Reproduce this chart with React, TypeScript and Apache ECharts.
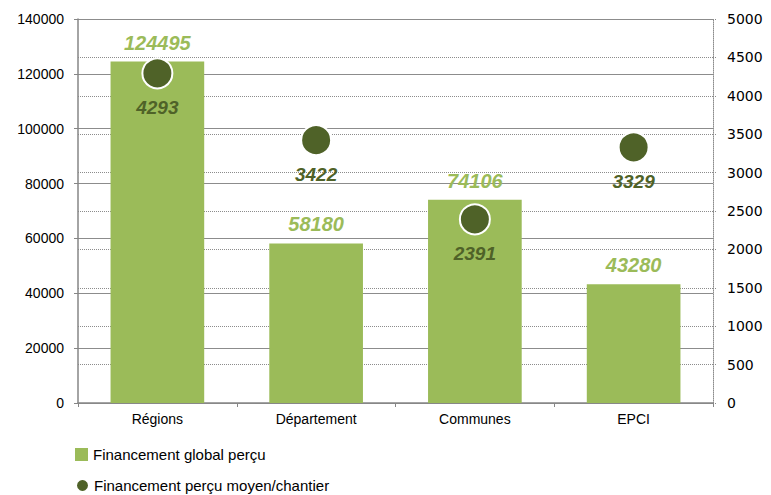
import React, { useEffect, useRef } from "react";
import * as echarts from "echarts";

const categories = ["Régions", "Département", "Communes", "EPCI"];
const globalValues = [124495, 58180, 74106, 43280];
const meanValues = [4293, 3422, 2391, 3329];
const seriesNames = ["Financement global perçu", "Financement perçu moyen/chantier"];

const FONT = "Liberation Sans, Arial, sans-serif";

export default function App() {
  const ref = useRef<HTMLDivElement>(null);
  useEffect(() => {
    if (!ref.current) return;
    const chart = echarts.init(ref.current, null, { renderer: "svg" });
    const legendText = { fontSize: 15, color: "#000", fontFamily: FONT };
    chart.setOption({
      animation: false,
      textStyle: { fontFamily: FONT },
      grid: { left: 78, right: 58, top: 19, bottom: 92, containLabel: false },
      legend: [
        {
          left: 70,
          top: 444,
          itemWidth: 13,
          itemHeight: 13,
          itemGap: 4,
          padding: [3, 5],
          textStyle: legendText,
          data: [{ name: seriesNames[0], icon: "rect" }],
        },
        {
          left: 70,
          top: 475,
          itemWidth: 13,
          itemHeight: 13,
          padding: [3, 5],
          textStyle: legendText,
          data: [{ name: seriesNames[1], icon: "circle" }],
        },
      ],
      xAxis: {
        type: "category",
        data: categories,
        axisLine: { lineStyle: { color: "#868686", width: 1.5 } },
        axisTick: { show: true, length: 4, lineStyle: { color: "#868686" } },
        axisLabel: { color: "#000", fontSize: 14, margin: 9 },
      },
      yAxis: [
        {
          type: "value",
          min: 0,
          max: 140000,
          interval: 20000,
          axisLine: { show: true, lineStyle: { color: "#868686", width: 1.5 } },
          axisTick: { show: true, length: 4, lineStyle: { color: "#868686" } },
          axisLabel: { color: "#000", fontSize: 14, margin: 14, formatter: (v: number) => String(v) },
          splitLine: { show: true, lineStyle: { color: "#8c8c8c", type: "solid", width: 1 } },
        },
        {
          type: "value",
          min: 0,
          max: 5000,
          interval: 500,
          position: "right",
          axisLine: { show: true, lineStyle: { color: "#8c8c8c", type: "dotted", width: 1 } },
          axisTick: { show: true, length: 4, lineStyle: { color: "#8c8c8c", type: "dotted" } },
          axisLabel: {
            color: "#000",
            fontSize: 14,
            margin: 14,
            fontFamily: "DejaVu Sans, Verdana, sans-serif",
            formatter: (v: number) => String(v),
          },
          splitLine: { show: true, lineStyle: { color: "#8c8c8c", type: "dotted", width: 1 } },
        },
      ],
      series: [
        {
          name: seriesNames[0],
          type: "bar",
          data: globalValues,
          barWidth: "59%",
          itemStyle: { color: "#9bbb59" },
          label: {
            show: true,
            position: "top",
            distance: 9,
            color: "#9bbb59",
            fontSize: 20,
            fontWeight: "bold",
            fontStyle: "italic",
          },
          z: 2,
        },
        {
          name: seriesNames[1],
          type: "scatter",
          yAxisIndex: 1,
          data: meanValues,
          symbol: "circle",
          symbolSize: 30,
          itemStyle: { color: "#4f6228", borderColor: "#fff", borderWidth: 2, opacity: 1 },
          label: {
            show: true,
            position: "bottom",
            distance: 9,
            color: "#4f6228",
            fontSize: 19,
            fontWeight: "bold",
            fontStyle: "italic",
          },
          z: 5,
        },
      ],
    });
    return () => chart.dispose();
  }, []);
  return <div ref={ref} style={{ width: 771, height: 495, position: "absolute", left: 0, top: 0 }} />;
}
